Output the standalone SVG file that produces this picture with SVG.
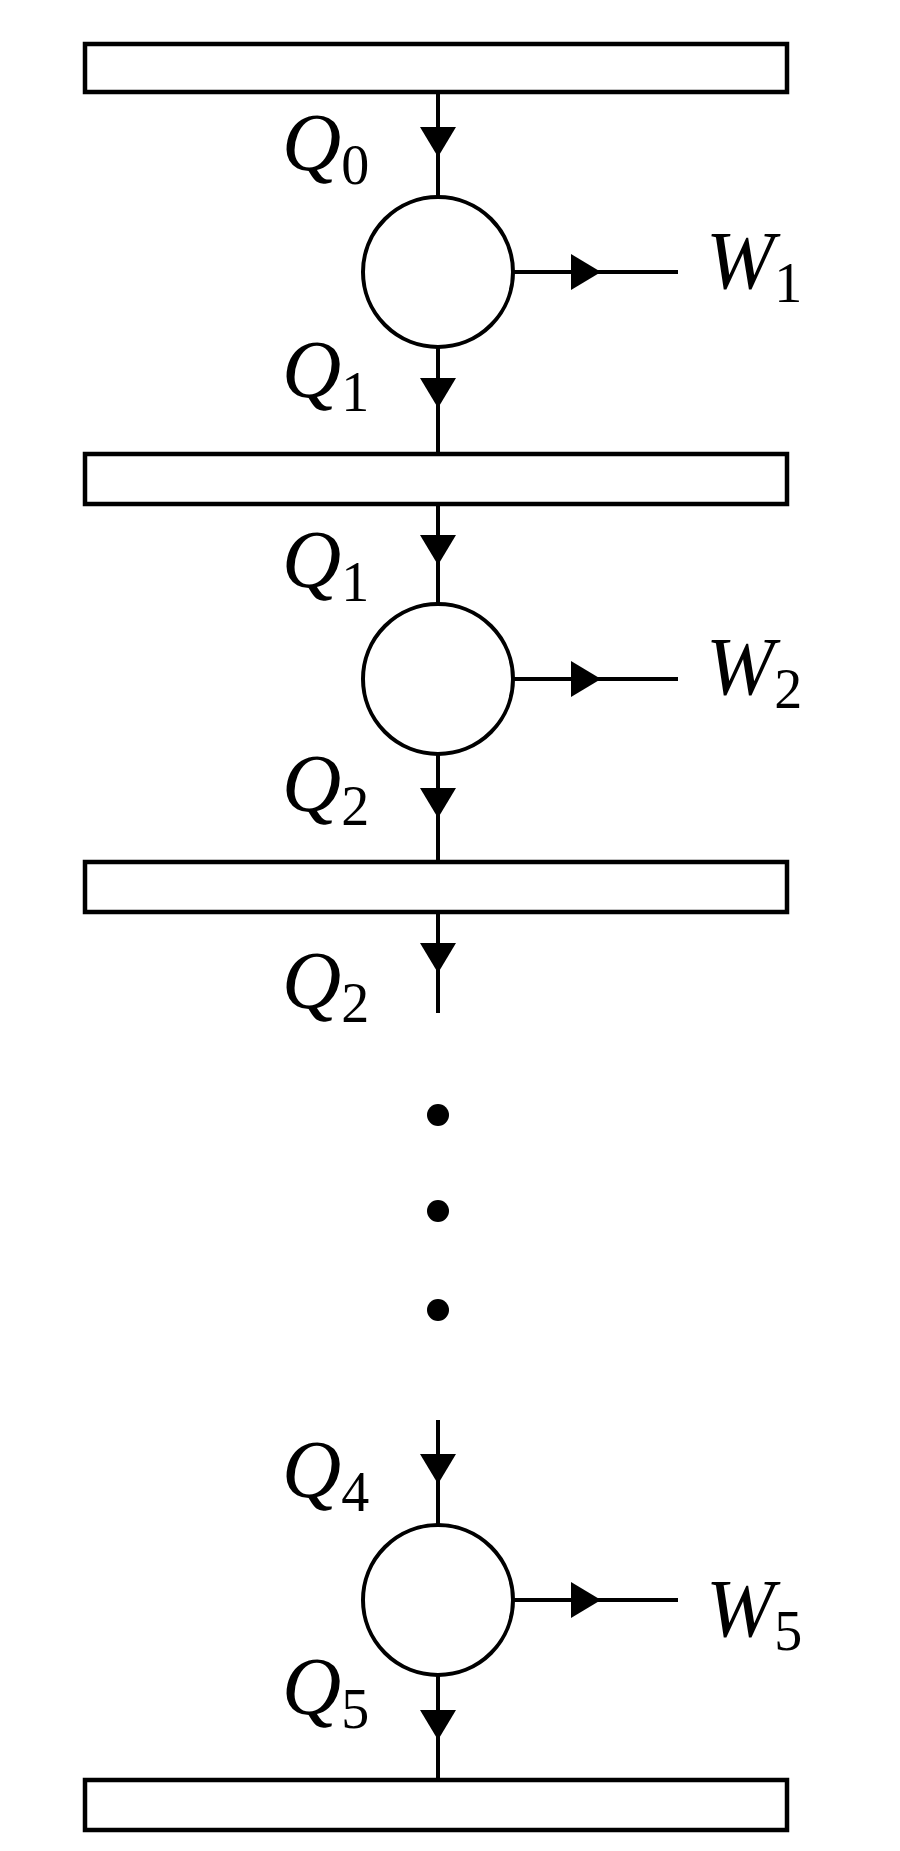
<svg xmlns="http://www.w3.org/2000/svg" width="900" height="1851" viewBox="0 0 900 1851">
<style>
.bar{fill:#fff;stroke:#000;stroke-width:4.5}
.ln{stroke:#000;stroke-width:4;fill:none}
.node{fill:#fff;stroke:#000;stroke-width:4}
.tri{fill:#000}
.q{font-family:"Liberation Serif",serif;font-style:italic;font-size:82px}
.s{font-family:"Liberation Serif",serif;font-style:normal;font-size:56px}
</style>
<defs>
<path id="ad" class="tri" d="M-18,0 L18,0 L0,30 Z"/>
<path id="ar" class="tri" d="M0,-18 L0,18 L30,0 Z"/>
</defs>
<rect width="900" height="1851" fill="#fff"/>
<g id="connectors">
<line class="ln" x1="438" y1="92" x2="438" y2="1013"/>
<line class="ln" x1="438" y1="1420" x2="438" y2="1780"/>
<line class="ln" x1="513" y1="272" x2="678" y2="272"/>
<line class="ln" x1="513" y1="679" x2="678" y2="679"/>
<line class="ln" x1="513" y1="1600" x2="678" y2="1600"/>
<use href="#ad" x="438" y="127"/>
<use href="#ad" x="438" y="378"/>
<use href="#ad" x="438" y="535"/>
<use href="#ad" x="438" y="788"/>
<use href="#ad" x="438" y="943"/>
<use href="#ad" x="438" y="1454"/>
<use href="#ad" x="438" y="1710"/>
<use href="#ar" x="571" y="272"/>
<use href="#ar" x="571" y="679"/>
<use href="#ar" x="571" y="1600"/>
</g>
<g id="bar1"><rect class="bar" x="85" y="44" width="702" height="48"/></g>
<g id="bar2"><rect class="bar" x="85" y="454" width="702" height="50"/></g>
<g id="bar3"><rect class="bar" x="85" y="862" width="702" height="50"/></g>
<g id="bar4"><rect class="bar" x="85" y="1780" width="702" height="50"/></g>
<g id="engine1"><circle class="node" cx="438" cy="272" r="75"/></g>
<g id="engine2"><circle class="node" cx="438" cy="679" r="75"/></g>
<g id="engine5"><circle class="node" cx="438" cy="1600" r="75"/></g>
<g id="dots">
<circle cx="438" cy="1115" r="11"/>
<circle cx="438" cy="1211" r="11"/>
<circle cx="438" cy="1310" r="11"/>
</g>
<g id="labels">
<text x="282" y="170"><tspan class="q">Q</tspan><tspan class="s" dy="14">0</tspan></text>
<text x="282" y="397"><tspan class="q">Q</tspan><tspan class="s" dy="14">1</tspan></text>
<text x="282" y="587"><tspan class="q">Q</tspan><tspan class="s" dy="14">1</tspan></text>
<text x="282" y="811"><tspan class="q">Q</tspan><tspan class="s" dy="14">2</tspan></text>
<text x="282" y="1008"><tspan class="q">Q</tspan><tspan class="s" dy="14">2</tspan></text>
<text x="282" y="1497"><tspan class="q">Q</tspan><tspan class="s" dy="14">4</tspan></text>
<text x="282" y="1714"><tspan class="q">Q</tspan><tspan class="s" dy="14">5</tspan></text>
<text x="706" y="288"><tspan class="q">W</tspan><tspan class="s" dy="14">1</tspan></text>
<text x="706" y="694"><tspan class="q">W</tspan><tspan class="s" dy="14">2</tspan></text>
<text x="706" y="1636"><tspan class="q">W</tspan><tspan class="s" dy="14">5</tspan></text>
</g>
</svg>
